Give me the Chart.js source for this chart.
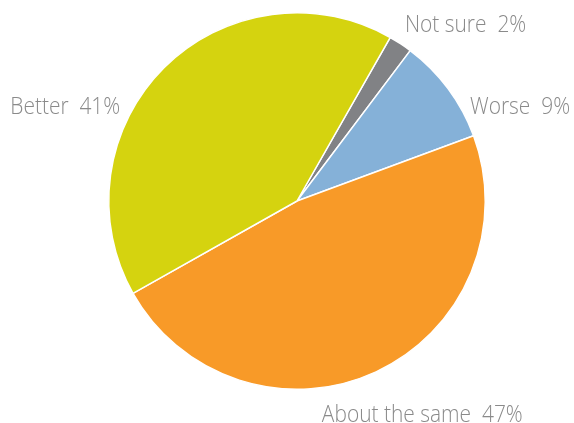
<!DOCTYPE html>
<html>
<head>
<meta charset="utf-8">
<script src="https://cdn.jsdelivr.net/npm/chart.js@4"></script>
<style>
  html, body { margin: 0; padding: 0; background: #ffffff; }
  #wrap { width: 574px; height: 423px; position: relative; }
</style>
</head>
<body>
<div id="wrap"><canvas id="pie"></canvas></div>
<script>
// Survey answers, in clockwise order starting from the top slice
const categories = ['Not sure', 'Worse', 'About the same', 'Better'];
const shares = [2, 9, 47, 41];
const sliceColors = ['#818285', '#85b1d8', '#f89a28', '#d5d30f'];

// Label placement: alignment and nudge from the point just outside each slice's middle
const labelAlign = ['left', 'left', 'center', 'right'];
const labelNudge = [[-1, -10], [14, 25], [42, 35], [-37, 47]];
const labelSqueeze = 0.91;

const outsideLabels = {
  id: 'outsideLabels',
  afterDatasetsDraw(chart) {
    const ctx = chart.ctx;
    const meta = chart.getDatasetMeta(0);
    ctx.save();
    ctx.font = '300 23px "Open Sans", sans-serif';
    ctx.fillStyle = '#8a8a8a';
    ctx.textBaseline = 'middle';
    meta.data.forEach((arc, i) => {
      const p = arc.getProps(['x', 'y', 'startAngle', 'endAngle', 'outerRadius'], true);
      const mid = (p.startAngle + p.endAngle) / 2;
      const r = p.outerRadius + 10;
      const x = p.x + Math.cos(mid) * r + labelNudge[i][0];
      const y = p.y + Math.sin(mid) * r + labelNudge[i][1];
      ctx.save();
      ctx.translate(x, y);
      ctx.scale(labelSqueeze, 1);
      ctx.textAlign = labelAlign[i];
      ctx.fillText(categories[i] + '  ' + shares[i] + '%', 0, 0);
      ctx.restore();
    });
    ctx.restore();
  }
};

new Chart(document.getElementById('pie'), {
  type: 'pie',
  data: {
    labels: categories,
    datasets: [{
      data: shares,
      backgroundColor: sliceColors,
      borderColor: '#ffffff',
      borderWidth: 1.5
    }]
  },
  options: {
    responsive: true,
    maintainAspectRatio: false,
    animation: false,
    rotation: 29.7,
    layout: { padding: { left: 108, right: 88, top: 12, bottom: 33 } },
    plugins: {
      legend: { display: false },
      tooltip: { enabled: false }
    }
  },
  plugins: [outsideLabels]
});
</script>
</body>
</html>
